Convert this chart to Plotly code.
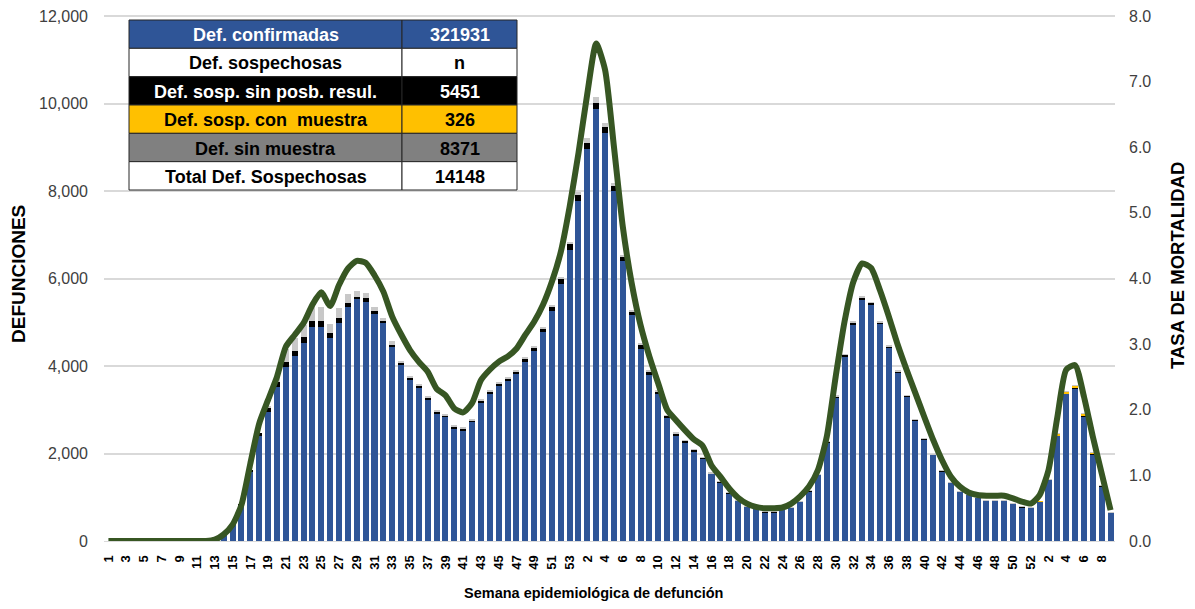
import plotly.graph_objects as go

# ---------------- DATA ----------------
semanas_2020 = list(range(1, 54))
semanas_2021 = list(range(1, 53))
semanas_2022 = list(range(1, 10))

# Defunciones confirmadas (azul)
confirmadas = [
    0, 0, 0, 0, 0, 0, 0, 0, 0, 0, 0, 0, 30, 150, 390, 800, 1580, 2410, 2940, 3527,
    3985, 4229, 4533, 4884, 4884, 4632, 4990, 5356, 5524, 5470, 5189, 4975, 4426, 4020,
    3680, 3500, 3225, 2910, 2825, 2570, 2525, 2710, 3160, 3370, 3535, 3650, 3810, 4090,
    4340, 4770, 5250, 5880, 6660, 7770, 8960, 9880, 9330, 7990, 6390, 5160, 4400, 3805,
    3360, 2815, 2420, 2258, 2050, 1875, 1532, 1332, 1088, 925, 790, 738, 662, 662,
    738, 760, 894, 1135, 1512, 2240, 3275, 4225, 4955, 5520, 5400, 4960, 4420, 3855,
    3305, 2763, 2326, 1972, 1595, 1332, 1127, 1055, 987, 930, 919, 930, 851, 775,
    760, 903, 1395, 2410, 3360, 3490, 2850, 1985, 1255, 650,
]
# Def. sosp. sin posibilidad de resultado (negro)
sin_posib_resul = [
    0, 0, 0, 0, 0, 0, 0, 0, 0, 0, 0, 0, 0, 0, 14, 23, 43, 66, 110, 115,
    106, 114, 122, 144, 144, 115, 99, 91, 61, 76, 76, 61, 54, 70,
    60, 55, 50, 50, 50, 48, 47, 50, 55, 58, 60, 62, 68, 75,
    80, 90, 100, 110, 120, 130, 135, 130, 125, 120, 105, 90, 80, 68,
    58, 50, 42, 38, 35, 28, 22, 18, 12, 8, 7, 6, 5, 5,
    6, 7, 9, 12, 16, 25, 32, 38, 45, 50, 45, 40, 35, 30,
    25, 20, 15, 12, 9, 7, 6, 6, 5, 5, 5, 5, 5, 4,
    4, 4, 6, 8, 10, 10, 8, 6, 4, 2,
]
# Def. sosp. con muestra (amarillo)
con_muestra = [0] * 105 + [3, 10, 30, 45, 48, 45, 30, 18, 8]
# Def. sin muestra (gris)
sin_muestra = [
    0, 0, 0, 0, 0, 0, 0, 0, 0, 0, 0, 0, 0, 0, 0, 0, 0, 0, 30, 114,
    290, 289, 282, 343, 312, 213, 229, 191, 137, 114, 91, 69, 99, 32,
    30, 25, 25, 20, 20, 18, 18, 20, 22, 22, 25, 28, 30, 33,
    37, 40, 44, 52, 62, 85, 109, 131, 92, 65, 42, 30, 23, 20,
    18, 15, 14, 12, 10, 9, 8, 6, 5, 4, 3, 3, 3, 3,
    3, 3, 3, 3, 3, 5, 8, 11, 13, 15, 15, 13, 10, 8,
    7, 5, 5, 4, 3, 2, 2, 2, 2, 2, 2, 2, 2, 2,
    2, 0, 3, 6, 10, 10, 7, 6, 3, 2,
]
# Tasa de mortalidad (eje derecho)
tasa_mortalidad = [
    0, 0, 0, 0, 0, 0, 0, 0, 0, 0, 0, 0, 0.02, 0.10, 0.25, 0.55, 1.18, 1.79, 2.15, 2.50,
    2.96, 3.14, 3.32, 3.60, 3.79, 3.58, 3.90, 4.15, 4.27, 4.24, 4.05, 3.80, 3.42, 3.15,
    2.91, 2.73, 2.58, 2.32, 2.22, 2.02, 1.96, 2.10, 2.45, 2.61, 2.73, 2.81, 2.93, 3.14,
    3.34, 3.60, 3.95, 4.40, 5.09, 5.91, 6.82, 7.58, 7.18, 6.01, 4.79, 3.93, 3.29, 2.81,
    2.40, 2.00, 1.84, 1.69, 1.55, 1.45, 1.15, 0.98, 0.80, 0.66, 0.57, 0.52, 0.50, 0.50,
    0.51, 0.57, 0.68, 0.83, 1.08, 1.59, 2.50, 3.34, 3.95, 4.23, 4.16, 3.82, 3.42, 2.99,
    2.61, 2.25, 1.89, 1.54, 1.23, 0.98, 0.83, 0.74, 0.70, 0.69, 0.69, 0.69, 0.65, 0.60,
    0.57, 0.70, 1.08, 1.89, 2.61, 2.68, 2.20, 1.59, 1.03, 0.47,
]

ticks_def = [0, 2000, 4000, 6000, 8000, 10000, 12000]
ticks_tasa = [0, 1, 2, 3, 4, 5, 6, 7, 8]

tabla_etiquetas = ["Def. confirmadas", "Def. sospechosas", "Def. sosp. sin posb. resul.",
                   "Def. sosp. con  muestra", "Def. sin muestra", "Total Def. Sospechosas"]
tabla_valores = ["321931", "n", "5451", "326", "8371", "14148"]

# ---------------- BUILD ----------------
categorias = ([f"2020-{w:02d}" for w in semanas_2020] +
              [f"2021-{w:02d}" for w in semanas_2021] +
              [f"2022-{w:02d}" for w in semanas_2022])
semana_num = semanas_2020 + semanas_2021 + semanas_2022
tickvals = categorias[::2]
ticktext = [str(w) for w in semana_num[::2]]

AZUL = "#2F5597"
NEGRO = "#000000"
AMARILLO = "#FFC000"
GRIS_BARRA = "#C8C8C8"
VERDE = "#375623"

fig = go.Figure()
for vals, col, name in [(confirmadas, AZUL, "Def. confirmadas"),
                        (sin_posib_resul, NEGRO, "Def. sosp. sin posb. resul."),
                        (con_muestra, AMARILLO, "Def. sosp. con muestra"),
                        (sin_muestra, GRIS_BARRA, "Def. sin muestra")]:
    fig.add_trace(go.Bar(x=categorias, y=vals, marker_color=col, marker_line_width=0,
                         name=name, yaxis="y"))

fig.add_trace(go.Scatter(x=categorias, y=tasa_mortalidad, mode="lines", yaxis="y2",
                         line=dict(color=VERDE, width=6, shape="spline", smoothing=0.6),
                         name="Tasa de mortalidad"))

# page body adds an 8px margin; reference pixel coords are page coords
OFF = 8
W, H = 1195 - 2 * OFF, 609 - 2 * OFF
PL, PR, PT, PB = 104, 1115, 14, 541   # plot area in page pixels
L, T = PL - OFF, PT - OFF
R, B = W - (PR - OFF), H - (PB - OFF)
pw, ph = PR - PL, PB - PT
YMAX = 12000 * (PB - PT) / 525.0     # keeps 12,000 at page y=16
Y2MAX = 8 * (PB - PT) / 525.0


def px(x):
    return (x - PL) / pw


def py(y):
    return (PB - y) / ph


fig.update_layout(
    width=W, height=H, template="none",
    margin=dict(l=L, r=R, t=T, b=B, pad=0),
    barmode="stack", bargap=0.32, showlegend=False,
    plot_bgcolor="white", paper_bgcolor="white",
    font=dict(family="Liberation Sans, Arial, sans-serif", color="#000"),
    xaxis=dict(type="category", tickmode="array", tickvals=tickvals, ticktext=ticktext,
               tickangle=-90,
               tickfont=dict(size=13, family="Liberation Sans", color="#000", weight="bold"),
               showgrid=False, showline=True, linecolor="#d9d9d9", linewidth=1,
               ticks="", ticklabelstandoff=8, automargin=False),
    yaxis=dict(range=[0, YMAX], tickmode="array", tickvals=ticks_def, tickformat=",",
               showgrid=True, gridcolor="#d9d9d9", gridwidth=1.5, zeroline=False, ticks="",
               tickfont=dict(size=16, color="#404040"), ticklabelstandoff=15,
               ticklabeloverflow="allow", automargin=False),
    yaxis2=dict(range=[0, Y2MAX], tickmode="array", tickvals=ticks_tasa, tickformat=".1f",
                overlaying="y", side="right",
                showgrid=False, zeroline=False, ticks="",
                tickfont=dict(size=16, color="#404040"), ticklabelstandoff=13,
                ticklabeloverflow="allow", automargin=False),
)

# Axis titles
fig.add_annotation(text="<b>DEFUNCIONES</b>", xref="paper", yref="paper",
                   x=px(18), y=py(274), textangle=-90, showarrow=False,
                   xanchor="center", yanchor="middle", font=dict(size=19, color="#000"))
fig.add_annotation(text="<b>TASA DE MORTALIDAD</b>", xref="paper", yref="paper",
                   x=px(1177), y=py(266), textangle=-90, showarrow=False,
                   xanchor="center", yanchor="middle", font=dict(size=18.5, color="#000"))
fig.add_annotation(text="<b>Semana epidemiológica de defunción</b>", xref="paper", yref="paper",
                   x=px(593), y=py(593), showarrow=False, xanchor="center", yanchor="middle",
                   font=dict(size=14.5, color="#000"))

# Summary table
tx0, tx1, tsplit, ty0, ty1 = 129, 517, 402, 20, 190
fills = [AZUL, "white", "#000000", AMARILLO, "#808080", "white"]
txtcol = ["white", "#000", "white", "#000", "#000", "#000"]
rh = (ty1 - ty0) / len(tabla_etiquetas)
for k, (lab, val) in enumerate(zip(tabla_etiquetas, tabla_valores)):
    ya, yb = ty0 + k * rh, ty0 + (k + 1) * rh
    for xa, xb, t in [(tx0, tsplit, lab), (tsplit, tx1, val)]:
        fig.add_shape(type="rect", xref="paper", yref="paper",
                      x0=px(xa), x1=px(xb), y0=py(yb), y1=py(ya),
                      fillcolor=fills[k], line=dict(color="#262626", width=1), layer="above")
        fig.add_annotation(text=f"<b>{t}</b>", xref="paper", yref="paper",
                           x=px((xa + xb) / 2), y=py((ya + yb) / 2 + 1), showarrow=False,
                           xanchor="center", yanchor="middle",
                           font=dict(size=18, color=txtcol[k],
                                     family="Liberation Sans Narrow, Arial Narrow, Liberation Sans"))

fig.write_html("out.html")
